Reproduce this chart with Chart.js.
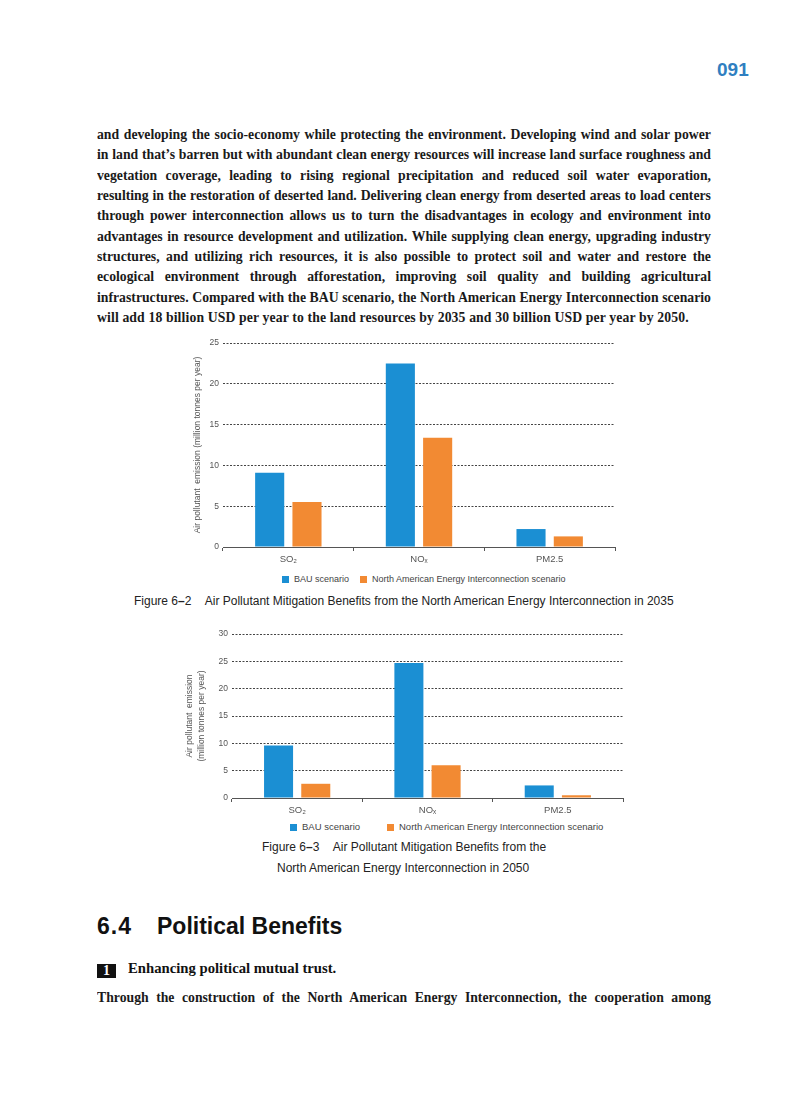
<!DOCTYPE html>
<html>
<head>
<meta charset="utf-8">
<script src="https://cdn.jsdelivr.net/npm/chart.js@4.4.1/dist/chart.umd.min.js"></script>
<style>
body { margin: 0; background: #fff; }
#page { position: relative; width: 794px; height: 1100px; overflow: hidden; background: #fff; }
.abs { position: absolute; }
.para { position: absolute; left: 97px; width: 671px; transform: scaleX(0.915); transform-origin: 0 0;
        font: bold 15px 'Liberation Serif', serif; color: #1a1a1a; white-space: nowrap; }
.para div { height: 20.35px; line-height: 20.35px; text-align: justify; text-align-last: justify; }
.para div.last { text-align-last: left; letter-spacing: 0.13px; }
.cap { position: absolute; font: 12px 'Liberation Sans', sans-serif; color: #222; white-space: nowrap; }
.leg { position: absolute; font: 9px 'Liberation Sans', sans-serif; color: #444; white-space: nowrap; }
.leg span.box { display: inline-block; width: 7px; height: 7px; vertical-align: -1px; margin-right: 5px; }
canvas { position: absolute; }
</style>
</head>
<body>
<div id="page">
  <div class="abs" style="left:717px;top:59px;font:bold 19px 'Liberation Sans',sans-serif;color:#2f7fc1;">091</div>

  <div class="para" style="top:124px;">
    <div>and developing the socio-economy while protecting the environment. Developing wind and solar power</div>
    <div>in land that’s barren but with abundant clean energy resources will increase land surface roughness and</div>
    <div>vegetation coverage, leading to rising regional precipitation and reduced soil water evaporation,</div>
    <div>resulting in the restoration of deserted land. Delivering clean energy from deserted areas to load centers</div>
    <div>through power interconnection allows us to turn the disadvantages in ecology and environment into</div>
    <div>advantages in resource development and utilization. While supplying clean energy, upgrading industry</div>
    <div>structures, and utilizing rich resources, it is also possible to protect soil and water and restore the</div>
    <div>ecological environment through afforestation, improving soil quality and building agricultural</div>
    <div>infrastructures. Compared with the BAU scenario, the North American Energy Interconnection scenario</div>
    <div class="last">will add 18 billion USD per year to the land resources by 2035 and 30 billion USD per year by 2050.</div>
  </div>

  <canvas id="chart2035" width="445" height="237" style="left:185px;top:330px;"></canvas>
  <div id="legend2035"></div>
  <div class="cap" style="left:134px;top:594px;">Figure 6<b>–</b>2&nbsp;&nbsp;&nbsp;&nbsp;Air Pollutant Mitigation Benefits from the North American Energy Interconnection in 2035</div>

  <canvas id="chart2050" width="462" height="196" style="left:178px;top:622px;"></canvas>
  <div id="legend2050"></div>
  <div class="cap" style="left:262px;top:840px;">Figure 6<b>–</b>3&nbsp;&nbsp;&nbsp;&nbsp;Air Pollutant Mitigation Benefits from the</div>
  <div class="cap" style="left:277px;top:861px;">North American Energy Interconnection in 2050</div>

  <div class="abs" style="left:97px;top:913px;font:bold 23px 'Liberation Sans',sans-serif;color:#111;letter-spacing:1px;">6.4</div>
  <div class="abs" style="left:157px;top:913px;font:bold 23px 'Liberation Sans',sans-serif;color:#111;">Political Benefits</div>

  <div class="abs" style="left:97px;top:964px;width:19px;height:14px;background:#111;color:#fff;font:bold 14px 'Liberation Serif',serif;line-height:14px;text-align:center;">1</div>
  <div class="abs" style="left:128px;top:960px;transform:scaleX(0.98);transform-origin:0 0;font:bold 15px 'Liberation Serif',serif;color:#111;white-space:nowrap;">Enhancing political mutual trust.</div>
  <div class="para" style="top:987px;">
    <div>Through the construction of the North American Energy Interconnection, the cooperation among</div>
  </div>
</div>

<script>
const categories = ['SO₂', 'NOₓ', 'PM2.5'];
const seriesNames = ['BAU scenario', 'North American Energy Interconnection scenario'];
const bau2035 = [9.1, 22.5, 2.2];
const naei2035 = [5.5, 13.4, 1.3];
const bau2050 = [9.6, 24.7, 2.3];
const naei2050 = [2.6, 6.0, 0.5];
const yTicks2035 = [0, 5, 10, 15, 20, 25];
const yTicks2050 = [0, 5, 10, 15, 20, 25, 30];

const BLUE = '#1b8fd3';
const ORANGE = '#f28a33';
const FONT = "'Liberation Sans', 'DejaVu Sans', sans-serif";

function makeChart(id, bau, naei, yTicks, title, yWidth, pad, titlePad) {
    const ctx = document.getElementById(id);
    return new Chart(ctx, {
        type: 'bar',
        data: {
            labels: categories,
            datasets: [
                { label: seriesNames[0], data: bau, backgroundColor: BLUE },
                { label: seriesNames[1], data: naei, backgroundColor: ORANGE }
            ]
        },
        options: {
            responsive: false,
            animation: false,
            categoryPercentage: 0.571,
            barPercentage: 0.78,
            layout: { padding: pad },
            plugins: { legend: { display: false }, tooltip: { enabled: false } },
            scales: {
                x: {
                    afterFit: function(scale) { scale.height = 20; },
                    grid: { offset: true, drawOnChartArea: false, tickLength: 4, color: '#555' },
                    border: { color: '#555', width: 1 },
                    ticks: { color: '#555', padding: 3, font: { family: FONT, size: 9.5 } }
                },
                y: {
                    min: yTicks[0],
                    max: yTicks[yTicks.length - 1],
                    afterFit: function(scale) { scale.width = yWidth; },
                    afterBuildTicks: function(scale) { scale.ticks = yTicks.map(v => ({ value: v })); },
                    border: { display: false, dash: [2, 1.5] },
                    grid: { drawTicks: false, color: '#444', lineWidth: 1 },
                    ticks: { color: '#555', padding: 4, font: { family: FONT, size: 8.5 } },
                    title: {
                        display: true, text: title, color: '#555',
                        font: { family: FONT, size: 8.5, lineHeight: 1.35 },
                        padding: { top: titlePad, bottom: 0 }
                    }
                }
            }
        }
    });
}

const c1 = makeChart('chart2035', bau2035, naei2035, yTicks2035,
    'Air pollutant  emission (million tonnes per year)', 38,
    { top: 13, right: 15, left: 0, bottom: 0 }, 6.5);
const c2 = makeChart('chart2050', bau2050, naei2050, yTicks2050,
    ['Air pollutant  emission', '(million tonnes per year)'], 54,
    { top: 12, right: 17, left: 0, bottom: 0 }, 6.2);

function buildLegend(chart, holderId, top, lefts, size) {
    const holder = document.getElementById(holderId);
    chart.data.datasets.forEach(function(ds, i) {
        const item = document.createElement('div');
        item.className = 'leg';
        item.style.left = lefts[i] + 'px';
        item.style.top = top + 'px';
        item.style.fontSize = size + 'px';
        const box = document.createElement('span');
        box.className = 'box';
        box.style.background = ds.backgroundColor;
        item.appendChild(box);
        item.appendChild(document.createTextNode(ds.label));
        holder.appendChild(item);
    });
}
buildLegend(c1, 'legend2035', 574, [282, 360], 9);
buildLegend(c2, 'legend2050', 821, [290, 387], 9.5);
</script>
</body>
</html>
